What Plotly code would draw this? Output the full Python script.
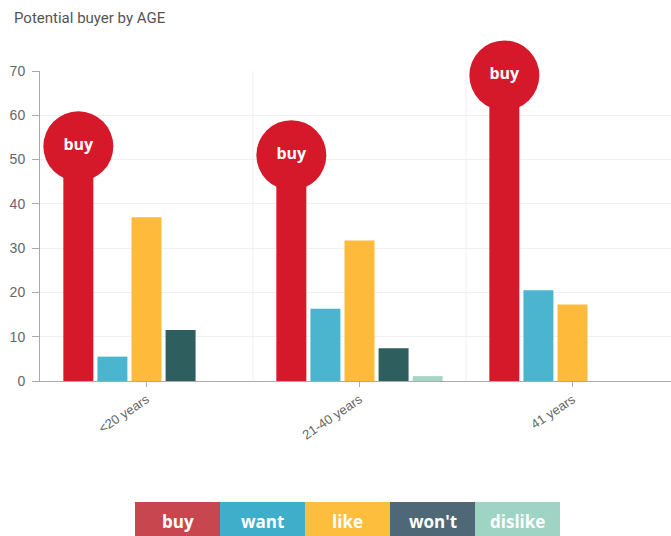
import plotly.graph_objects as go

# Data
categories = ["<20 years", "21-40 years", "41 years"]
series_names = ["buy", "want", "like", "won't", "dislike"]
buy = [53, 51, 69]
want = [5.5, 16.3, 20.5]
like = [37, 31.7, 17.3]
wont = [11.5, 7.4, None]
dislike = [None, 1.1, None]
y_ticks = [0, 10, 20, 30, 40, 50, 60, 70]

bar_colors = ["#D5182A", "#4BB5D0", "#FDBA3B", "#2E5E5E", "#A5D5C4"]
legend_colors = ["#C8474E", "#3FAECB", "#FCBE3C", "#4F6878", "#9FD4C4"]

W, H = 671, 536
M_L, M_R, M_T, M_B = 40, 0, 71, 155
BARGAP = 0.2
GROUPGAP = 0.12

xs = list(range(len(categories)))
values = [buy, want, like, wont, dislike]

fig = go.Figure()
for name, vals, col in zip(series_names, values, bar_colors):
    fig.add_trace(go.Bar(x=xs, y=vals, name=name, marker=dict(color=col, line=dict(width=0)),
                         showlegend=False, hoverinfo="y"))

# bubble on top of the "buy" bars
slot = (1 - BARGAP) / len(series_names)
buy_x = [x - (1 - BARGAP) / 2 + slot / 2 for x in xs]
fig.add_trace(go.Scatter(
    x=buy_x, y=buy, mode="markers+text", text=["buy"] * len(buy),
    textposition="middle center",
    textfont=dict(family="Open Sans", size=16, color="white", weight="bold"),
    marker=dict(size=70, color=bar_colors[0], line=dict(width=0)),
    cliponaxis=False, showlegend=False, hoverinfo="skip"))

plot_w = W - M_L - M_R
cat_px = 213
x_range = [-0.5, -0.5 + plot_w / cat_px]

# faint vertical separators between age groups
shapes = []
for i in range(len(categories) - 1):
    shapes.append(dict(type="line", xref="x", yref="paper", x0=i + 0.5, x1=i + 0.5,
                       y0=0, y1=1, line=dict(color="#EEEEEE", width=1), layer="below"))

# custom legend bar beneath the chart
plot_h = H - M_T - M_B
def px_x(p):
    return (p - M_L) / plot_w
def px_y(p):
    return (H - M_B - p) / plot_h

annotations = []
box_left, box_w, box_top, box_bot = 135, 85, 502, 540
for i, (name, col) in enumerate(zip(series_names, legend_colors)):
    x0 = box_left + i * box_w
    shapes.append(dict(type="rect", xref="paper", yref="paper",
                       x0=px_x(x0), x1=px_x(x0 + box_w), y0=px_y(box_bot), y1=px_y(box_top),
                       fillcolor=col, line=dict(width=0)))
    annotations.append(dict(xref="paper", yref="paper", x=px_x(x0 + box_w / 2), y=px_y(521),
                            text=name, showarrow=False, xanchor="center", yanchor="middle",
                            font=dict(family="Open Sans", size=17, color="white", weight="bold")))

annotations.append(dict(xref="paper", yref="paper", x=px_x(12), y=px_y(18), text="Potential buyer by AGE",
                        showarrow=False, xanchor="left", yanchor="middle",
                        font=dict(family="Roboto", size=15, color="#555555")))

fig.update_layout(
    width=W, height=H, margin=dict(l=M_L, r=M_R, t=M_T, b=M_B),
    paper_bgcolor="white", plot_bgcolor="white",
    barmode="group", bargap=BARGAP, bargroupgap=GROUPGAP,
    shapes=shapes, annotations=annotations,
    xaxis=dict(range=x_range, tickvals=xs, ticktext=categories, tickangle=-34,
               showgrid=False, zeroline=False, showline=True, linecolor="#AAAAAA", linewidth=1,
               ticks="outside", ticklen=5, tickcolor="#AAAAAA",
               tickfont=dict(family="Liberation Sans", size=13, color="#666666")),
    yaxis=dict(range=[0, 70], tickvals=y_ticks, showgrid=True, gridcolor="#F0F0F0",
               zeroline=False, showline=True, linecolor="#AAAAAA", linewidth=1,
               ticks="outside", ticklen=7, tickcolor="#AAAAAA", ticklabelstandoff=4,
               tickfont=dict(family="Liberation Sans", size=14, color="#666666")),
    font=dict(family="Roboto"),
)

fig.write_html("out.html")
